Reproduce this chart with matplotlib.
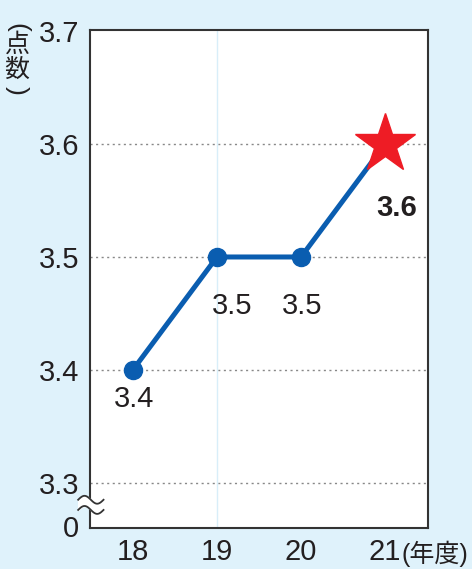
import numpy as np
import matplotlib
matplotlib.use('Agg')
import matplotlib.pyplot as plt
import matplotlib.transforms as mtransforms

# data
years = [18, 19, 20, 21]
year_labels = ['18', '19', '20', '21']
scores = [3.4, 3.5, 3.5, 3.6]
score_labels = ['3.4', '3.5', '3.5', '3.6']
ytick_vals = [3.262, 3.3, 3.4, 3.5, 3.6, 3.7]
ytick_labels = ['0', '3.3', '3.4', '3.5', '3.6', '3.7']
grid_vals = [3.3, 3.4, 3.5, 3.6]

# label offsets (points) from each marker
label_offsets = [(1, -11), (11, -25), (1, -25), (8, -36)]

bg = '#dff2fb'
blue = '#0a5db0'
red = '#ee1c25'
txt = '#231f20'
fs = 21

plt.rcParams['font.family'] = ['Liberation Sans', 'Noto Sans CJK JP', 'DejaVu Sans']

fig = plt.figure(figsize=(4.72, 5.69), dpi=100, facecolor=bg)
ax = fig.add_axes([90 / 472, 41 / 569, 338 / 472, 498 / 569])
ax.set_facecolor('white')
ax.set_xlim(17.49, 21.51)
ax.set_ylim(3.26, 3.701)

for g in grid_vals:
    ax.axhline(g, color='#888888', lw=1.0, ls=(0, (1.5, 2.5)), zorder=1)
ax.axvline(19, color='#d8eef9', lw=1.0, zorder=1)

ax.plot(years[:-1], scores[:-1], color=blue, lw=3.6, marker='o', ms=13,
        zorder=3, solid_capstyle='round')
ax.plot(years[-2:], scores[-2:], color=blue, lw=3.6, zorder=3)
ax.plot(years[-1], scores[-1], marker='*', ms=45, color=red, mec=red, zorder=4)

# value labels
for i, (x, y, s) in enumerate(zip(years, scores, score_labels)):
    bold = 'bold' if i == len(years) - 1 else 'normal'
    ax.annotate(s, (x, y), xytext=label_offsets[i], textcoords='offset points',
                ha='center', va='top', fontsize=fs, color=txt, fontweight=bold)

ax.set_xticks(years)
ax.set_xticklabels(year_labels, fontsize=fs, color=txt)
ax.set_yticks(ytick_vals)
ax.set_yticklabels(ytick_labels, fontsize=fs, color=txt)
ax.tick_params(length=0, pad=8)
ax.tick_params(axis='x', pad=7)
for sp in ax.spines.values():
    sp.set_color('#333333')
    sp.set_linewidth(1.5)

# (年度) after 21
ax.text(21.19, -0.026, '(年度)',
        transform=mtransforms.blended_transform_factory(ax.transData, ax.transAxes),
        ha='left', va='top', fontsize=18, color=txt, clip_on=False)

# vertical y-axis label (点数)
fig.text(17 / 472, 1 - 27 / 569, '(', rotation=-90, ha='center', va='center', fontsize=19, color=txt)
fig.text(17 / 472, 1 - 45 / 569, '点', ha='center', va='center', fontsize=18, color=txt)
fig.text(17 / 472, 1 - 70 / 569, '数', ha='center', va='center', fontsize=18, color=txt)
fig.text(17 / 472, 1 - 90 / 569, ')', rotation=-90, ha='center', va='center', fontsize=19, color=txt)

# axis break mark
tr = mtransforms.blended_transform_factory(ax.transAxes, ax.transData)
wx = np.linspace(-0.035, 0.04, 40)
wave = 0.0035 * np.sin((wx + 0.035) / 0.075 * 2 * np.pi)
y1, y2 = 3.285, 3.276
ax.fill_between(wx, y1 + wave, y2 + wave, color='white', transform=tr, clip_on=False, zorder=5)
ax.plot(wx, y1 + wave, color='#333333', lw=1.3, transform=tr, clip_on=False, zorder=6)
ax.plot(wx, y2 + wave, color='#333333', lw=1.3, transform=tr, clip_on=False, zorder=6)

fig.savefig('out.png', dpi=100, facecolor=bg)
